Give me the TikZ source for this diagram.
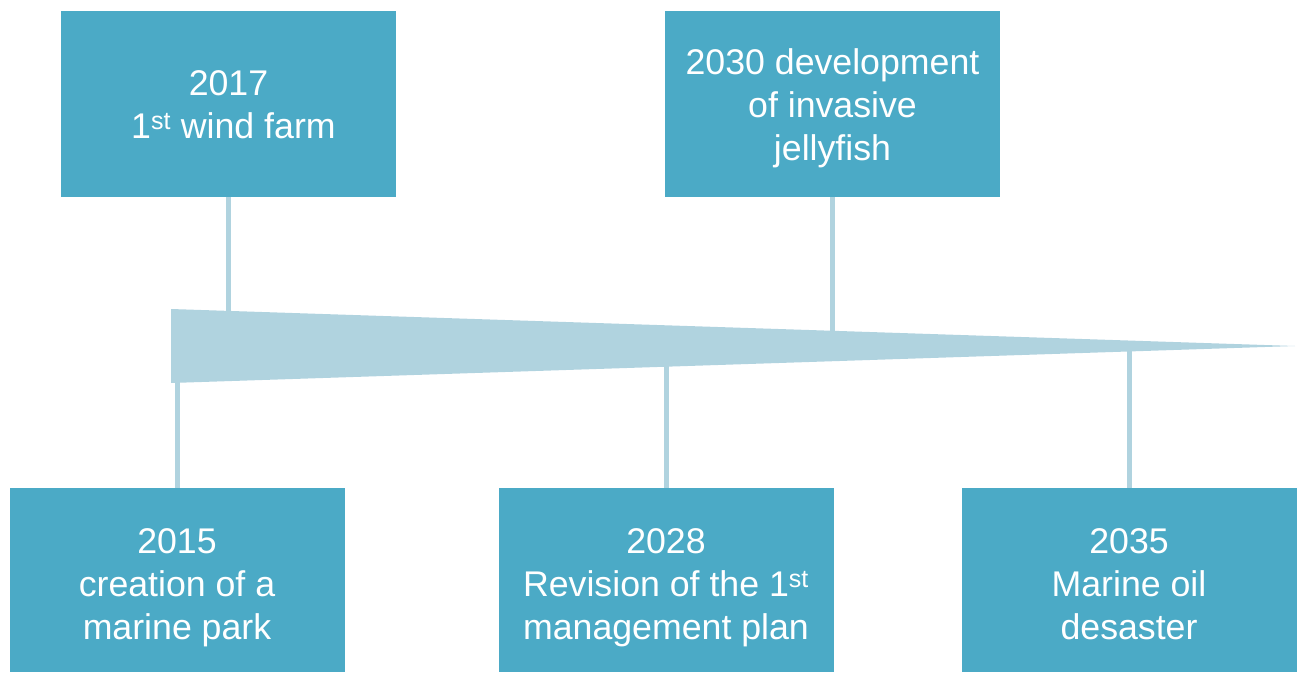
\documentclass[tikz,border=0pt]{standalone}
\usepackage{fontspec}
\setmainfont{Liberation Sans}
\definecolor{boxblue}{HTML}{4BAAC6}
\definecolor{barblue}{HTML}{B0D3DF}
\begin{document}
\begin{tikzpicture}[x=1pt,y=-1pt,
  eventbox/.style={fill=boxblue, inner sep=0pt, minimum width=335pt},
  topbox/.style={eventbox, minimum height=186pt},
  lowbox/.style={eventbox, minimum height=184pt},
  eventtext/.style={text=white, inner sep=0pt, align=center,
    font=\fontsize{35.7}{43}\selectfont},
  stem/.style={draw=barblue, line width=5pt}]
\useasboundingbox (0,0) rectangle (1303,672);

% tapering time bar
\coordinate (wtop) at (171,309);
\coordinate (wbot) at (171,383);
\coordinate (tip) at (1295,346);
\coordinate (axis) at (171,346);
\fill[barblue] (wtop) -- (tip) -- (wbot) -- cycle;

% events above the bar
\node[topbox] (e2017) at (228.5,104) {};
\node[topbox] (e2030) at (832.5,104) {};
\node[eventtext] (t2017) at ([yshift=-1pt]e2017.center)
  {2017\\ \hspace*{0.278em}1\textsuperscript{st} wind farm};
\node[eventtext] (t2030) at ([yshift=-4pt]e2030.center)
  {2030 development\\ of invasive\\ jellyfish};

% events below the bar
\node[lowbox] (e2015) at (177,580) {};
\node[lowbox] (e2028) at (666,580) {};
\node[lowbox] (e2035) at (1129,580) {};
\node[eventtext] (t2015) at ([yshift=-8pt]e2015.center)
  {2015\\ creation of a\\ marine park};
\node[eventtext] (t2028) at ([yshift=-8pt]e2028.center)
  {2028\\ Revision of the 1\textsuperscript{st}\\ management plan};
\node[eventtext] (t2035) at ([yshift=-4pt]e2035.center)
  {2035\\ Marine oil\\ desaster};

% stems joining events to the bar
\foreach \e in {e2017,e2030}
  \draw[stem] (\e.south) -- (\e.south |- axis);
\foreach \e in {e2015,e2028,e2035}
  \draw[stem] (\e.north) -- (\e.north |- axis);
\end{tikzpicture}
\end{document}
